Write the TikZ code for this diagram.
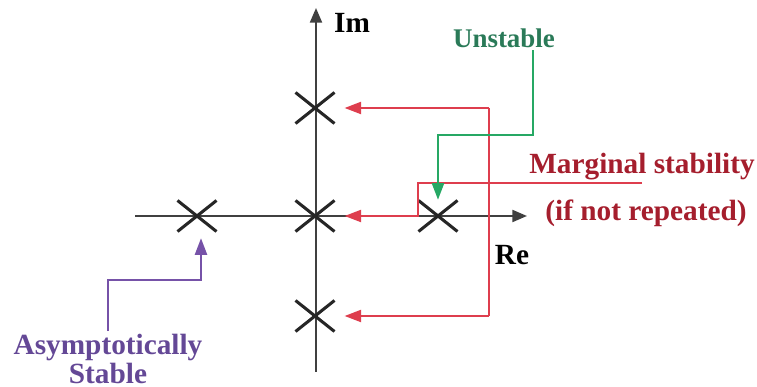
\documentclass[tikz,border=0pt]{standalone}
\usepackage{fontspec}
\setmainfont{Liberation Serif}
\usetikzlibrary{arrows.meta,shapes.misc}

\definecolor{margred}{RGB}{165,30,45}
\definecolor{linered}{RGB}{222,62,78}
\definecolor{unstgreen}{RGB}{42,122,88}
\definecolor{linegreen}{RGB}{38,168,100}
\definecolor{asympurple}{RGB}{100,72,150}
\definecolor{linepurple}{RGB}{118,82,168}

\tikzset{
    pole/.style={cross out, draw=black!85, line width=1.3pt, minimum width=0.54cm, minimum height=0.42cm, inner sep=0pt},
    axis/.style={draw=black!75, line width=0.9pt, -{Triangle[length=0.22cm, width=0.18cm]}},
    lbl/.style={font=\bfseries\fontsize{12.5}{12.5}\selectfont, inner sep=1pt},
    redline/.style={draw=linered, line width=1pt},
    redarrow/.style={redline, -{Triangle[length=0.25cm, width=0.18cm]}, shorten >=0.15cm},
    greenarrow/.style={draw=linegreen, line width=1pt, -{Triangle[length=0.25cm, width=0.18cm]}, shorten >=0.01cm},
    purplearrow/.style={draw=linepurple, line width=1pt, -{Triangle[length=0.25cm, width=0.18cm]}, shorten >=0.1cm}
}

\begin{document}
\begin{tikzpicture}[x=0.015cm, y=-0.015cm]
    \useasboundingbox (0,0) rectangle (757,387);

    % Axes
    \draw[axis] (135,216) -- (527,216);
    \draw[axis] (316,372) -- (316,8);
    \node[lbl] (im) at (352,23) {Im};
    \node[lbl] (re) at (512,255) {Re};

    % Poles
    \node[pole] (p1) at (315,108) {};
    \node[pole] (p2) at (315,216) {};
    \node[pole] (p3) at (315,316) {};
    \node[pole] (p4) at (197,216) {};
    \node[pole] (p5) at (438,216) {};

    % Marginal stability
    \node[lbl, text=margred, anchor=south] (marg) at (642,183) {Marginal stability};
    \node[lbl, text=margred] (notrep) at (646,213) {(if not repeated)};
    \coordinate (mk) at (418,216);
    \coordinate (rt) at (489,108);
    \coordinate (rb) at (489,316);
    \draw[redline] (rt) -- (rb);
    \draw[redarrow] (marg.south) -| (mk) -- (p2);
    \draw[redarrow] (rt) -- (p1);
    \draw[redarrow] (rb) -- (p3);

    % Unstable
    \node[lbl, text=unstgreen, font=\bfseries\fontsize{11.5}{12}\selectfont] (unst) at (504,38) {Unstable};
    \coordinate (gk) at (438,135);
    \draw[greenarrow] ([xshift=0.43cm]unst.south) |- (gk) -- (p5);

    % Asymptotically stable
    \node[lbl, text=asympurple, align=center] (asym) at (108,359) {Asymptotically\\Stable};
    \coordinate (pk) at (201,280);
    \draw[purplearrow] (asym.north) |- (pk) -- (pk |- p4.south);
\end{tikzpicture}
\end{document}
